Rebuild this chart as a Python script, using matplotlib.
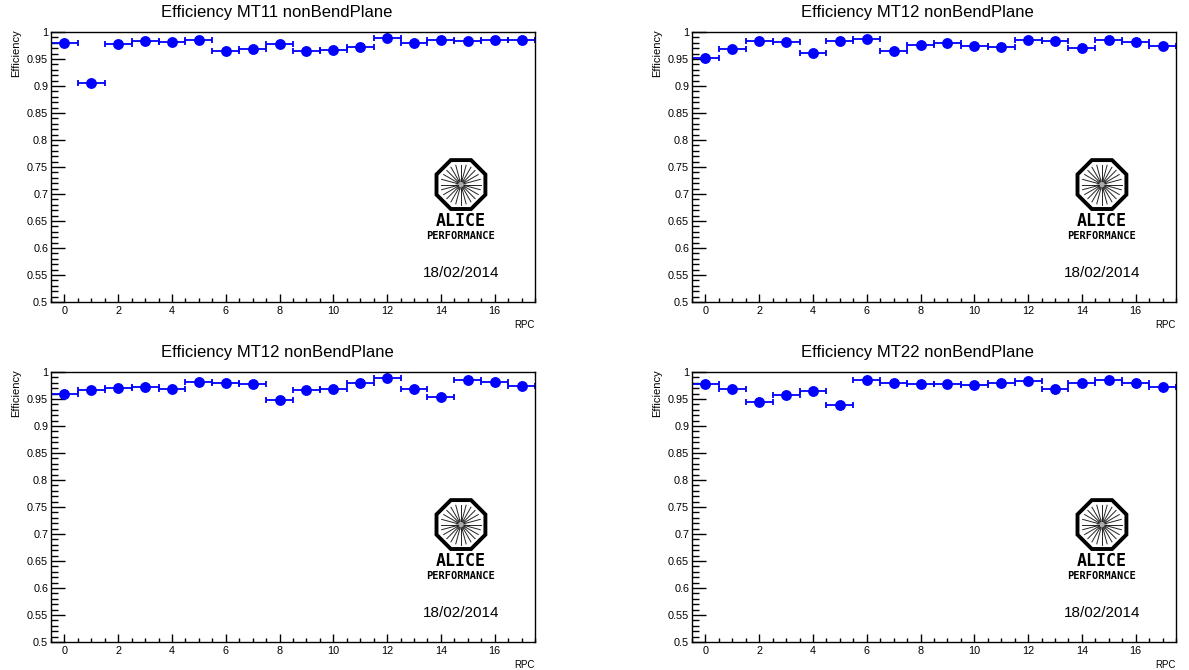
import numpy as np
import matplotlib
matplotlib.use("Agg")
import matplotlib.pyplot as plt
from matplotlib.patches import RegularPolygon, Circle
from matplotlib.ticker import MultipleLocator, FuncFormatter

plt.rcParams['font.family'] = ['Liberation Sans', 'DejaVu Sans']

# data
rpc = [0, 1, 2, 3, 4, 5, 6, 7, 8, 9, 10, 11, 12, 13, 14, 15, 16, 17]
titles = ["Efficiency MT11 nonBendPlane", "Efficiency MT12 nonBendPlane",
          "Efficiency MT12 nonBendPlane", "Efficiency MT22 nonBendPlane"]
eff_a = [0.980, 0.905, 0.978, 0.983, 0.981, 0.985, 0.964, 0.968, 0.978,
         0.965, 0.966, 0.972, 0.989, 0.979, 0.985, 0.984, 0.986, 0.986]
eff_b = [0.951, 0.968, 0.983, 0.981, 0.961, 0.983, 0.987, 0.965, 0.976,
         0.980, 0.975, 0.972, 0.986, 0.983, 0.971, 0.986, 0.981, 0.975]
eff_c = [0.960, 0.967, 0.970, 0.972, 0.968, 0.982, 0.980, 0.977, 0.949,
         0.967, 0.968, 0.980, 0.988, 0.969, 0.954, 0.985, 0.981, 0.975]
eff_d = [0.977, 0.968, 0.944, 0.957, 0.965, 0.939, 0.985, 0.979, 0.977,
         0.978, 0.976, 0.980, 0.983, 0.968, 0.979, 0.985, 0.979, 0.972]
date_str = "18/02/2014"

W, H = 1189, 670
fig = plt.figure(figsize=(W / 100, H / 100), dpi=100)

# pixel boxes (left, top) of each frame, size 484x270
boxes = [(51, 32), (692, 32), (51, 372), (692, 372)]
title_x = [277, 917, 277, 917]
title_base = [17, 17, 357, 357]
bw, bh = 484, 270


def draw_logo(ax, cx, cy):
    lw_px, lh_px = 54, 54
    ins = ax.inset_axes([cx - lw_px / bw / 2, cy - lh_px / bh / 2, lw_px / bw, lh_px / bh])
    ins.set_xlim(-1, 1)
    ins.set_ylim(-1, 1)
    ins.axis('off')
    ins.add_patch(RegularPolygon((0, 0), 8, radius=0.98, orientation=np.pi / 8,
                                 fill=False, ec='black', lw=2.8))
    for a in np.linspace(0, 2 * np.pi, 24, endpoint=False):
        ins.plot([0.12 * np.cos(a), 0.74 * np.cos(a)], [0.12 * np.sin(a), 0.74 * np.sin(a)],
                 color='#222222', lw=0.7)
    ins.add_patch(Circle((0, 0), 0.2, color='#aaaaaa', lw=0))


for i, eff in enumerate([eff_a, eff_b, eff_c, eff_d]):
    l, t = boxes[i]
    ax = fig.add_axes([l / W, 1 - (t + bh) / H, bw / W, bh / H])
    ax.errorbar(rpc, eff, xerr=0.5, fmt='o', color='blue', ms=6.8,
                capsize=2.2, elinewidth=1.3, capthick=1.3)
    ax.set_xlim(-0.5, 17.5)
    ax.set_ylim(0.5, 1.0)
    ax.xaxis.set_major_locator(MultipleLocator(2))
    ax.xaxis.set_minor_locator(MultipleLocator(0.5))
    ax.yaxis.set_major_locator(MultipleLocator(0.05))
    ax.yaxis.set_minor_locator(MultipleLocator(0.01))
    ax.yaxis.set_major_formatter(FuncFormatter(lambda v, p: '%g' % round(v, 3)))
    ax.tick_params(axis='y', which='major', direction='in', length=10, width=1,
                   labelsize=7.8, pad=2)
    ax.tick_params(axis='y', which='minor', direction='in', length=5, width=1)
    ax.tick_params(axis='x', which='major', direction='in', length=6, width=1,
                   labelsize=7.8, pad=3)
    ax.tick_params(axis='x', which='minor', direction='in', length=3, width=1)
    for s in ax.spines.values():
        s.set_linewidth(1)
    ax.text(-0.072, 1.01, 'Efficiency', rotation=90, ha='center', va='top',
            fontsize=8, transform=ax.transAxes)
    ax.text(1.0, -0.065, 'RPC', ha='right', va='top', fontsize=7,
            transform=ax.transAxes)

    cx = 0.847
    draw_logo(ax, cx, 0.435)
    ax.text(cx, 0.30, 'ALICE', ha='center', va='center', fontsize=12,
            fontweight='bold', family='DejaVu Sans Mono', transform=ax.transAxes)
    ax.text(cx, 0.243, 'PERFORMANCE', ha='center', va='center', fontsize=7.5,
            fontweight='bold', family='DejaVu Sans Mono', transform=ax.transAxes)
    ax.text(cx, 0.107, date_str, ha='center', va='center', fontsize=11,
            transform=ax.transAxes)

    fig.text(title_x[i] / W, 1 - title_base[i] / H, titles[i], ha='center',
             va='baseline', fontsize=12)

fig.savefig('out.png', dpi=100)
